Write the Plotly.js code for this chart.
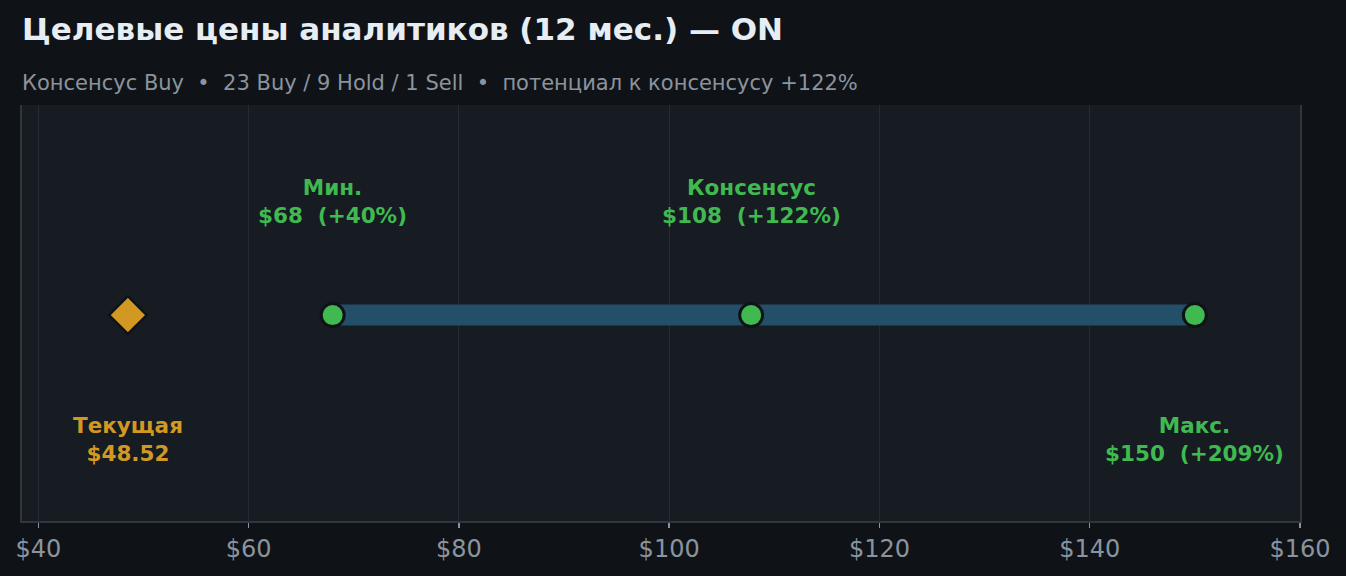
<!DOCTYPE html>
<html>
<head>
<meta charset="utf-8">
<script src="https://cdn.plot.ly/plotly-3.0.1.min.js"></script>
<style>
  html, body { margin: 0; padding: 0; background: #0f1317; }
  #chart { width: 1346px; height: 576px; }
</style>
</head>
<body>
<div id="chart"></div>
<script>
// analyst targets, 12 months
const currentPrice = 48.52;
const targetNames = ["Мин.", "Консенсус", "Макс."];
const targetPrices = [68, 107.8, 150];
const targetLabels = ["$68\u00a0 (+40%)", "$108\u00a0 (+122%)", "$150\u00a0 (+209%)"];
const currentName = "Текущая";
const currentLabel = "$48.52";
const tickVals = [40, 60, 80, 100, 120, 140, 160];
const tickText = ["$40", "$60", "$80", "$100", "$120", "$140", "$160"];

const green = "#3fb950";
const gold = "#d29922";
const font = "DejaVu Sans, sans-serif";

// label rows: above for min / consensus, below for max
const labelY = [0.545, 0.545, -0.597];

function initPlot() {
    const rangeBar = {
        x: [targetPrices[0], targetPrices[2]],
        y: [0, 0],
        mode: 'lines',
        line: { color: '#244f69', width: 21 },
        hoverinfo: 'skip'
    };
    const targets = {
        x: targetPrices,
        y: targetPrices.map(() => 0),
        mode: 'markers',
        marker: { symbol: 'circle', size: 23, color: green, line: { color: '#0f1317', width: 3 } },
        hoverinfo: 'x'
    };
    const current = {
        x: [currentPrice],
        y: [0],
        mode: 'markers',
        marker: { symbol: 'diamond', size: 29, color: gold, line: { color: '#0f1317', width: 2.5 } },
        hoverinfo: 'x'
    };

    const annotations = targetPrices.map((p, i) => ({
        x: p, y: labelY[i], xref: 'x', yref: 'y',
        text: `<b>${targetNames[i]}<br>${targetLabels[i]}</b>`,
        showarrow: false,
        xanchor: 'center', yanchor: 'middle',
        font: { family: font, size: 21.5, color: green }
    }));
    annotations.push({
        x: currentPrice, y: -0.597, xref: 'x', yref: 'y',
        text: `<b>${currentName}<br>${currentLabel}</b>`,
        showarrow: false,
        xanchor: 'center', yanchor: 'middle',
        font: { family: font, size: 21.5, color: gold }
    });
    // subtitle, 83px from top of page
    annotations.push({
        x: 0, y: 1 + (105 - 83) / 416, xref: 'paper', yref: 'paper',
        xshift: -2,
        text: "Консенсус Buy  •  23 Buy / 9 Hold / 1 Sell  •  потенциал к консенсусу +122%",
        showarrow: false, xanchor: 'left', yanchor: 'middle',
        font: { family: font, size: 21, color: '#8b949e' }
    });

    const layout = {
        width: 1346,
        height: 576,
        paper_bgcolor: '#0f1317',
        plot_bgcolor: '#171b22',
        margin: { l: 22, r: 46, t: 105, b: 55 },
        showlegend: false,
        title: {
            text: "<b>Целевые цены аналитиков (12 мес.) — ON</b>",
            x: 0, xanchor: 'left', xref: 'paper',
            y: 1 - 29 / 576, yanchor: 'middle', yref: 'container',
            font: { family: font, size: 31, color: '#e6edf3' }
        },
        xaxis: {
            range: [38.45, 160],
            tickvals: tickVals,
            ticktext: tickText,
            showgrid: true,
            gridcolor: '#262b33',
            gridwidth: 1,
            zeroline: false,
            showline: true,
            linecolor: '#30363d',
            linewidth: 2,
            ticks: 'outside',
            ticklen: 5,
            tickwidth: 1.5,
            tickcolor: '#8b949e',
            tickfont: { family: font, size: 24, color: '#8b949e' },
            fixedrange: true
        },
        yaxis: {
            range: [-0.99, 1.01],
            showgrid: false,
            zeroline: false,
            showticklabels: false,
            showline: true,
            mirror: true,
            linecolor: '#30363d',
            linewidth: 2,
            fixedrange: true
        },
        annotations: annotations
    };

    Plotly.newPlot('chart', [rangeBar, targets, current], layout, { displayModeBar: false, staticPlot: true });
}

document.addEventListener('DOMContentLoaded', initPlot);
</script>
</body>
</html>
